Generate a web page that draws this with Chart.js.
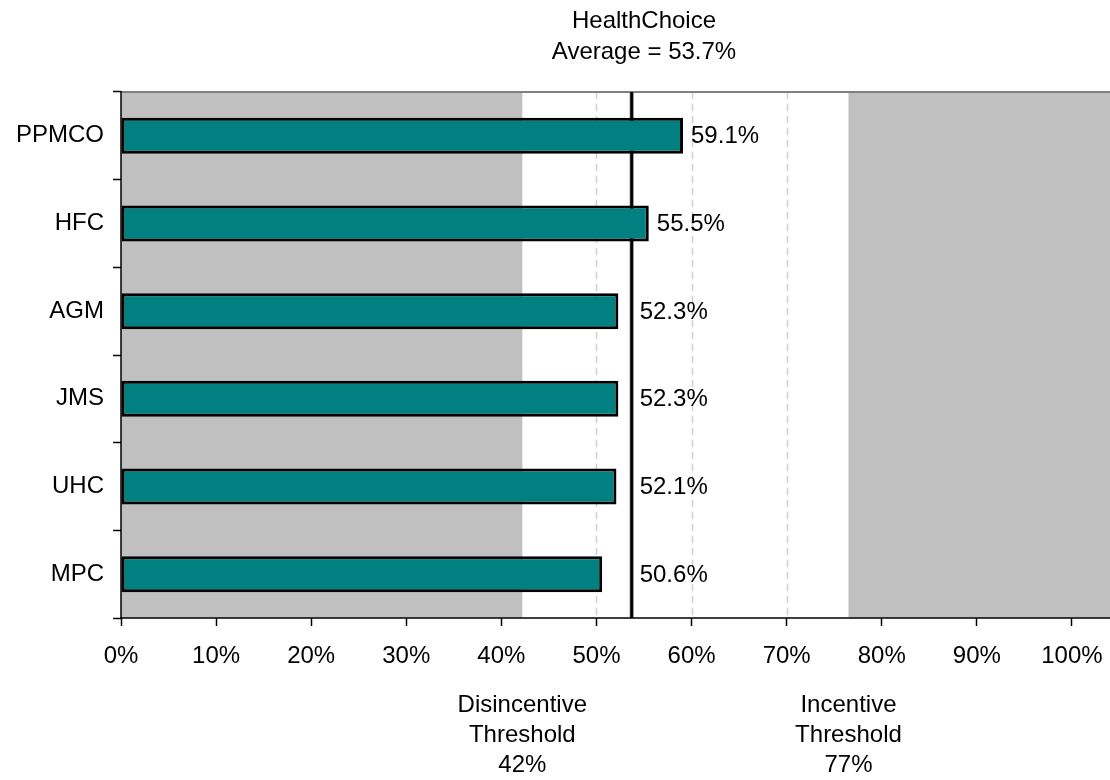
<!DOCTYPE html>
<html>
<head>
<meta charset="utf-8">
<script src="https://cdn.jsdelivr.net/npm/chart.js@4.4.0/dist/chart.umd.min.js"></script>
<style>
  html, body { margin: 0; padding: 0; background: #ffffff; }
  #wrap { width: 1110px; height: 780px; }
</style>
</head>
<body>
<div id="wrap"><canvas id="c" width="1110" height="780"></canvas></div>
<script>
// ---- data ----
const categories = ["PPMCO", "HFC", "AGM", "JMS", "UHC", "MPC"];
const rates = [59.1, 55.5, 52.3, 52.3, 52.1, 50.6];
const averageRate = 53.7;
const disincentiveThreshold = 42.2;
const incentiveThreshold = 76.5;
const disincentiveLabel = ["Disincentive", "Threshold", "42%"];
const incentiveLabel = ["Incentive", "Threshold", "77%"];
const titleLines = ["HealthChoice", "Average = 53.7%"];
const xTickValues = [0, 10, 20, 30, 40, 50, 60, 70, 80, 90, 100];
const xMax = 104;

const FONT = "'Liberation Sans', Arial, sans-serif";

const overlay = {
  id: 'overlay',
  beforeDatasetsDraw(chart) {
    const ctx = chart.ctx, a = chart.chartArea, x = chart.scales.x;
    ctx.save();
    // dashed grid lines
    ctx.strokeStyle = '#cfcfcf';
    ctx.lineWidth = 1.5;
    ctx.setLineDash([7, 5]);
    xTickValues.forEach(v => {
      if (v === 0) return;
      const px = Math.round(x.getPixelForValue(v)) + 0.5;
      ctx.beginPath(); ctx.moveTo(px, a.top); ctx.lineTo(px, a.bottom); ctx.stroke();
    });
    ctx.setLineDash([]);
    // gray bands
    ctx.fillStyle = '#c0c0c0';
    const x0 = x.getPixelForValue(0), x1 = x.getPixelForValue(disincentiveThreshold);
    const x2 = x.getPixelForValue(incentiveThreshold);
    ctx.fillRect(x0, a.top, x1 - x0, a.bottom - a.top);
    ctx.fillRect(x2, a.top, a.right - x2, a.bottom - a.top);
    // top border
    ctx.strokeStyle = '#808080';
    ctx.lineWidth = 2;
    ctx.beginPath(); ctx.moveTo(a.left, a.top); ctx.lineTo(a.right, a.top); ctx.stroke();
    // average line (behind bars)
    const ax = x.getPixelForValue(averageRate);
    ctx.strokeStyle = '#6a6a6a';
    ctx.lineWidth = 4;
    ctx.beginPath(); ctx.moveTo(ax, a.top); ctx.lineTo(ax, a.bottom); ctx.stroke();
    ctx.strokeStyle = '#000';
    ctx.lineWidth = 2.5;
    ctx.beginPath(); ctx.moveTo(ax, a.top); ctx.lineTo(ax, a.bottom); ctx.stroke();
    // axis lines
    ctx.strokeStyle = '#000';
    ctx.lineWidth = 1.5;
    ctx.beginPath(); ctx.moveTo(a.left, a.top - 1); ctx.lineTo(a.left, a.bottom); ctx.stroke();
    ctx.beginPath(); ctx.moveTo(a.left, a.bottom); ctx.lineTo(a.right, a.bottom); ctx.stroke();
    ctx.restore();
  },
  afterDatasetsDraw(chart) {
    const ctx = chart.ctx, x = chart.scales.x;
    const ax = x.getPixelForValue(averageRate);
    ctx.save();
    // value labels
    ctx.fillStyle = '#000';
    ctx.font = '24px ' + FONT;
    ctx.textAlign = 'left';
    ctx.textBaseline = 'middle';
    const meta = chart.getDatasetMeta(0);
    meta.data.forEach((bar, i) => {
      const end = Math.max(bar.x, ax);
      ctx.fillText(rates[i].toFixed(1) + '%', end + 8, bar.y + 1);
    });
    // title
    ctx.textAlign = 'center';
    ctx.textBaseline = 'middle';
    ctx.fillText(titleLines[0], 644, 21);
    ctx.fillText(titleLines[1], 644, 52);
    // threshold labels
    const dx = x.getPixelForValue(disincentiveThreshold);
    const ix = x.getPixelForValue(incentiveThreshold);
    disincentiveLabel.forEach((t, i) => ctx.fillText(t, dx, 705 + i * 30));
    incentiveLabel.forEach((t, i) => ctx.fillText(t, ix, 705 + i * 30));
    ctx.restore();
  }
};

new Chart(document.getElementById('c'), {
  type: 'bar',
  data: {
    labels: categories,
    datasets: [{
      data: rates,
      backgroundColor: '#008080',
      borderColor: '#000000',
      borderWidth: 3,
      borderSkipped: false,
      barPercentage: 0.41,
      categoryPercentage: 1.0
    }]
  },
  options: {
    indexAxis: 'y',
    responsive: false,
    animation: false,
    devicePixelRatio: 1,
    layout: { padding: { top: 92, left: 0, right: 0, bottom: 0 } },
    plugins: { legend: { display: false }, tooltip: { enabled: false }, title: { display: false } },
    scales: {
      x: {
        type: 'linear',
        min: 0,
        max: xMax,
        afterBuildTicks(scale) { scale.ticks = xTickValues.map(v => ({ value: v })); },
        afterFit(scale) { scale.height = 162; scale.paddingLeft = 0; scale.paddingRight = 0; },
        border: { display: false },
        grid: { drawOnChartArea: false, drawTicks: true, tickLength: 8, tickColor: '#000', tickWidth: 1.5 },
        ticks: {
          color: '#000',
          font: { family: FONT, size: 24 },
          padding: 16,
          maxRotation: 0,
          autoSkip: false,
          callback: v => v + '%'
        }
      },
      y: {
        afterFit(scale) { scale.width = 121; scale.paddingTop = 0; scale.paddingBottom = 0; },
        border: { display: false },
        grid: { drawOnChartArea: false, drawTicks: true, tickLength: 8, tickColor: '#000', tickWidth: 1.5, offset: true },
        ticks: {
          color: '#000',
          font: { family: FONT, size: 24 },
          padding: 9
        }
      }
    }
  },
  plugins: [overlay]
});
</script>
</body>
</html>
